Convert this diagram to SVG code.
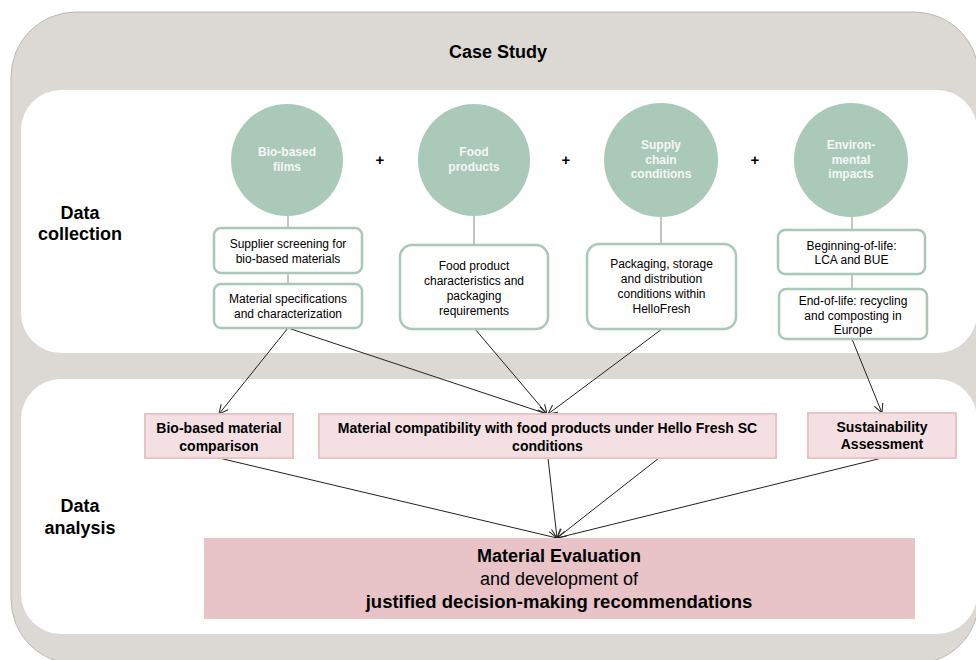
<svg xmlns="http://www.w3.org/2000/svg" width="976" height="660" viewBox="0 0 976 660">
<style>
.t{font-family:"Liberation Sans",Arial,sans-serif;text-anchor:middle;fill:#000}
.circ{fill:#aac9b8}
.ct{font-family:"Liberation Sans",Arial,sans-serif;text-anchor:middle;fill:#f4f7f5;font-weight:bold;font-size:12px}
.gbox{fill:#fff;stroke:#a9c8b8;stroke-width:2.5}
.bt{font-size:12px}
.pbox{fill:#f4e0e2;stroke:#e8c4c8;stroke-width:2}
.pt{font-size:14px;font-weight:bold}
.lbl{font-size:18px;font-weight:bold}
.conn{stroke:#8a8a8a;stroke-width:1;fill:none}
.arr{stroke:#222;stroke-width:1;fill:none;marker-end:url(#arr)}
.plus{font-size:15px;font-weight:bold}
</style>
<defs>
<marker id="arr" viewBox="-10 -6 12 12" refX="0" refY="0" markerWidth="12" markerHeight="12" markerUnits="userSpaceOnUse" orient="auto">
<path d="M-9,-4.5 L0,0 L-9,4.5" fill="none" stroke="#222" stroke-width="1"/>
</marker>
</defs>
<rect width="976" height="660" fill="#fff"/>
<g id="background">
<rect x="11" y="12" width="968" height="652" rx="65" ry="65" fill="#dcd9d4" stroke="#bdb8b1" stroke-width="1"/>
<rect x="21" y="90" width="956" height="263" rx="40" ry="40" fill="#fff"/>
<rect x="21" y="379" width="956" height="255" rx="40" ry="40" fill="#fff"/>
<text class="t lbl" x="498" y="58">Case Study</text>
<text class="t lbl" x="80" y="219">Data</text>
<text class="t lbl" x="80" y="240">collection</text>
<text class="t lbl" x="80" y="512">Data</text>
<text class="t lbl" x="80" y="534">analysis</text>
<text class="t plus" x="380" y="165">+</text>
<text class="t plus" x="566" y="165">+</text>
<text class="t plus" x="755" y="165">+</text>
</g>
<g id="connectors">
<line class="conn" x1="288" y1="216" x2="288" y2="228"/>
<line class="conn" x1="288" y1="273" x2="288" y2="284"/>
<line class="conn" x1="474" y1="216" x2="474" y2="245"/>
<line class="conn" x1="661" y1="217" x2="661" y2="244"/>
<line class="conn" x1="852" y1="216" x2="852" y2="230"/>
<line class="conn" x1="852" y1="274" x2="852" y2="289"/>
<line class="arr" x1="288" y1="328" x2="219" y2="414"/>
<line class="arr" x1="288" y1="328" x2="547" y2="414"/>
<line class="arr" x1="475" y1="329" x2="547" y2="414"/>
<line class="arr" x1="662" y1="329" x2="548" y2="414"/>
<line class="arr" x1="852" y1="339" x2="882" y2="413"/>
<line class="arr" x1="219" y1="458" x2="557" y2="538"/>
<line class="arr" x1="548" y1="458" x2="557" y2="538"/>
<line class="arr" x1="659" y1="458" x2="557" y2="538"/>
<line class="arr" x1="882" y1="458" x2="557" y2="538"/>
</g>
<g id="n-biofilms">
<circle class="circ" cx="287" cy="160" r="56"/>
<text class="ct" x="287" y="156">Bio-based</text>
<text class="ct" x="287" y="171">films</text>
</g>
<g id="n-food">
<circle class="circ" cx="474" cy="160" r="56"/>
<text class="ct" x="474" y="156">Food</text>
<text class="ct" x="474" y="171">products</text>
</g>
<g id="n-supply">
<circle class="circ" cx="661" cy="160" r="57"/>
<text class="ct" x="661" y="149">Supply</text>
<text class="ct" x="661" y="164">chain</text>
<text class="ct" x="661" y="178">conditions</text>
</g>
<g id="n-env">
<circle class="circ" cx="851" cy="160" r="57"/>
<text class="ct" x="851" y="149">Environ-</text>
<text class="ct" x="851" y="164">mental</text>
<text class="ct" x="851" y="178">impacts</text>
</g>
<g id="n-supplier">
<rect class="gbox" x="214" y="228" width="148" height="45" rx="7"/>
<text class="t bt" x="288" y="248">Supplier screening for</text>
<text class="t bt" x="288" y="263">bio-based materials</text>
</g>
<g id="n-matspec">
<rect class="gbox" x="214" y="284" width="148" height="44" rx="7"/>
<text class="t bt" x="288" y="303">Material specifications</text>
<text class="t bt" x="288" y="318">and characterization</text>
</g>
<g id="n-foodchar">
<rect class="gbox" x="400" y="245" width="148" height="84" rx="12"/>
<text class="t bt" x="474" y="270">Food product</text>
<text class="t bt" x="474" y="285">characteristics and</text>
<text class="t bt" x="474" y="300">packaging</text>
<text class="t bt" x="474" y="315">requirements</text>
</g>
<g id="n-packaging">
<rect class="gbox" x="587" y="244" width="149" height="85" rx="12"/>
<text class="t bt" x="661.5" y="268">Packaging, storage</text>
<text class="t bt" x="661.5" y="283">and distribution</text>
<text class="t bt" x="661.5" y="298">conditions within</text>
<text class="t bt" x="661.5" y="313">HelloFresh</text>
</g>
<g id="n-bol">
<rect class="gbox" x="778" y="230" width="147" height="44" rx="7"/>
<text class="t bt" x="851.5" y="250">Beginning-of-life:</text>
<text class="t bt" x="851.5" y="264">LCA and BUE</text>
</g>
<g id="n-eol">
<rect class="gbox" x="779" y="289" width="148" height="50" rx="7"/>
<text class="t bt" x="853" y="305">End-of-life: recycling</text>
<text class="t bt" x="853" y="320">and composting in</text>
<text class="t bt" x="853" y="334">Europe</text>
</g>
<g id="n-biocomp">
<rect class="pbox" x="145" y="414" width="148" height="44"/>
<text class="t pt" x="219" y="433">Bio-based material</text>
<text class="t pt" x="219" y="451">comparison</text>
</g>
<g id="n-compat">
<rect class="pbox" x="319" y="414" width="457" height="44"/>
<text class="t pt" x="547.5" y="433">Material compatibility with food products under Hello Fresh SC</text>
<text class="t pt" x="547.5" y="451">conditions</text>
</g>
<g id="n-sust">
<rect class="pbox" x="808" y="413" width="148" height="45"/>
<text class="t pt" x="882" y="432">Sustainability</text>
<text class="t pt" x="882" y="449">Assessment</text>
</g>
<g id="n-eval">
<rect x="204" y="538" width="711" height="81" fill="#e8c3c7"/>
<text class="t" x="559" y="562" font-size="18" font-weight="bold">Material Evaluation</text>
<text class="t" x="559" y="585" font-size="18">and development of</text>
<text class="t" x="559" y="608" font-size="18.5" font-weight="bold">justified decision-making recommendations</text>
</g>
</svg>
